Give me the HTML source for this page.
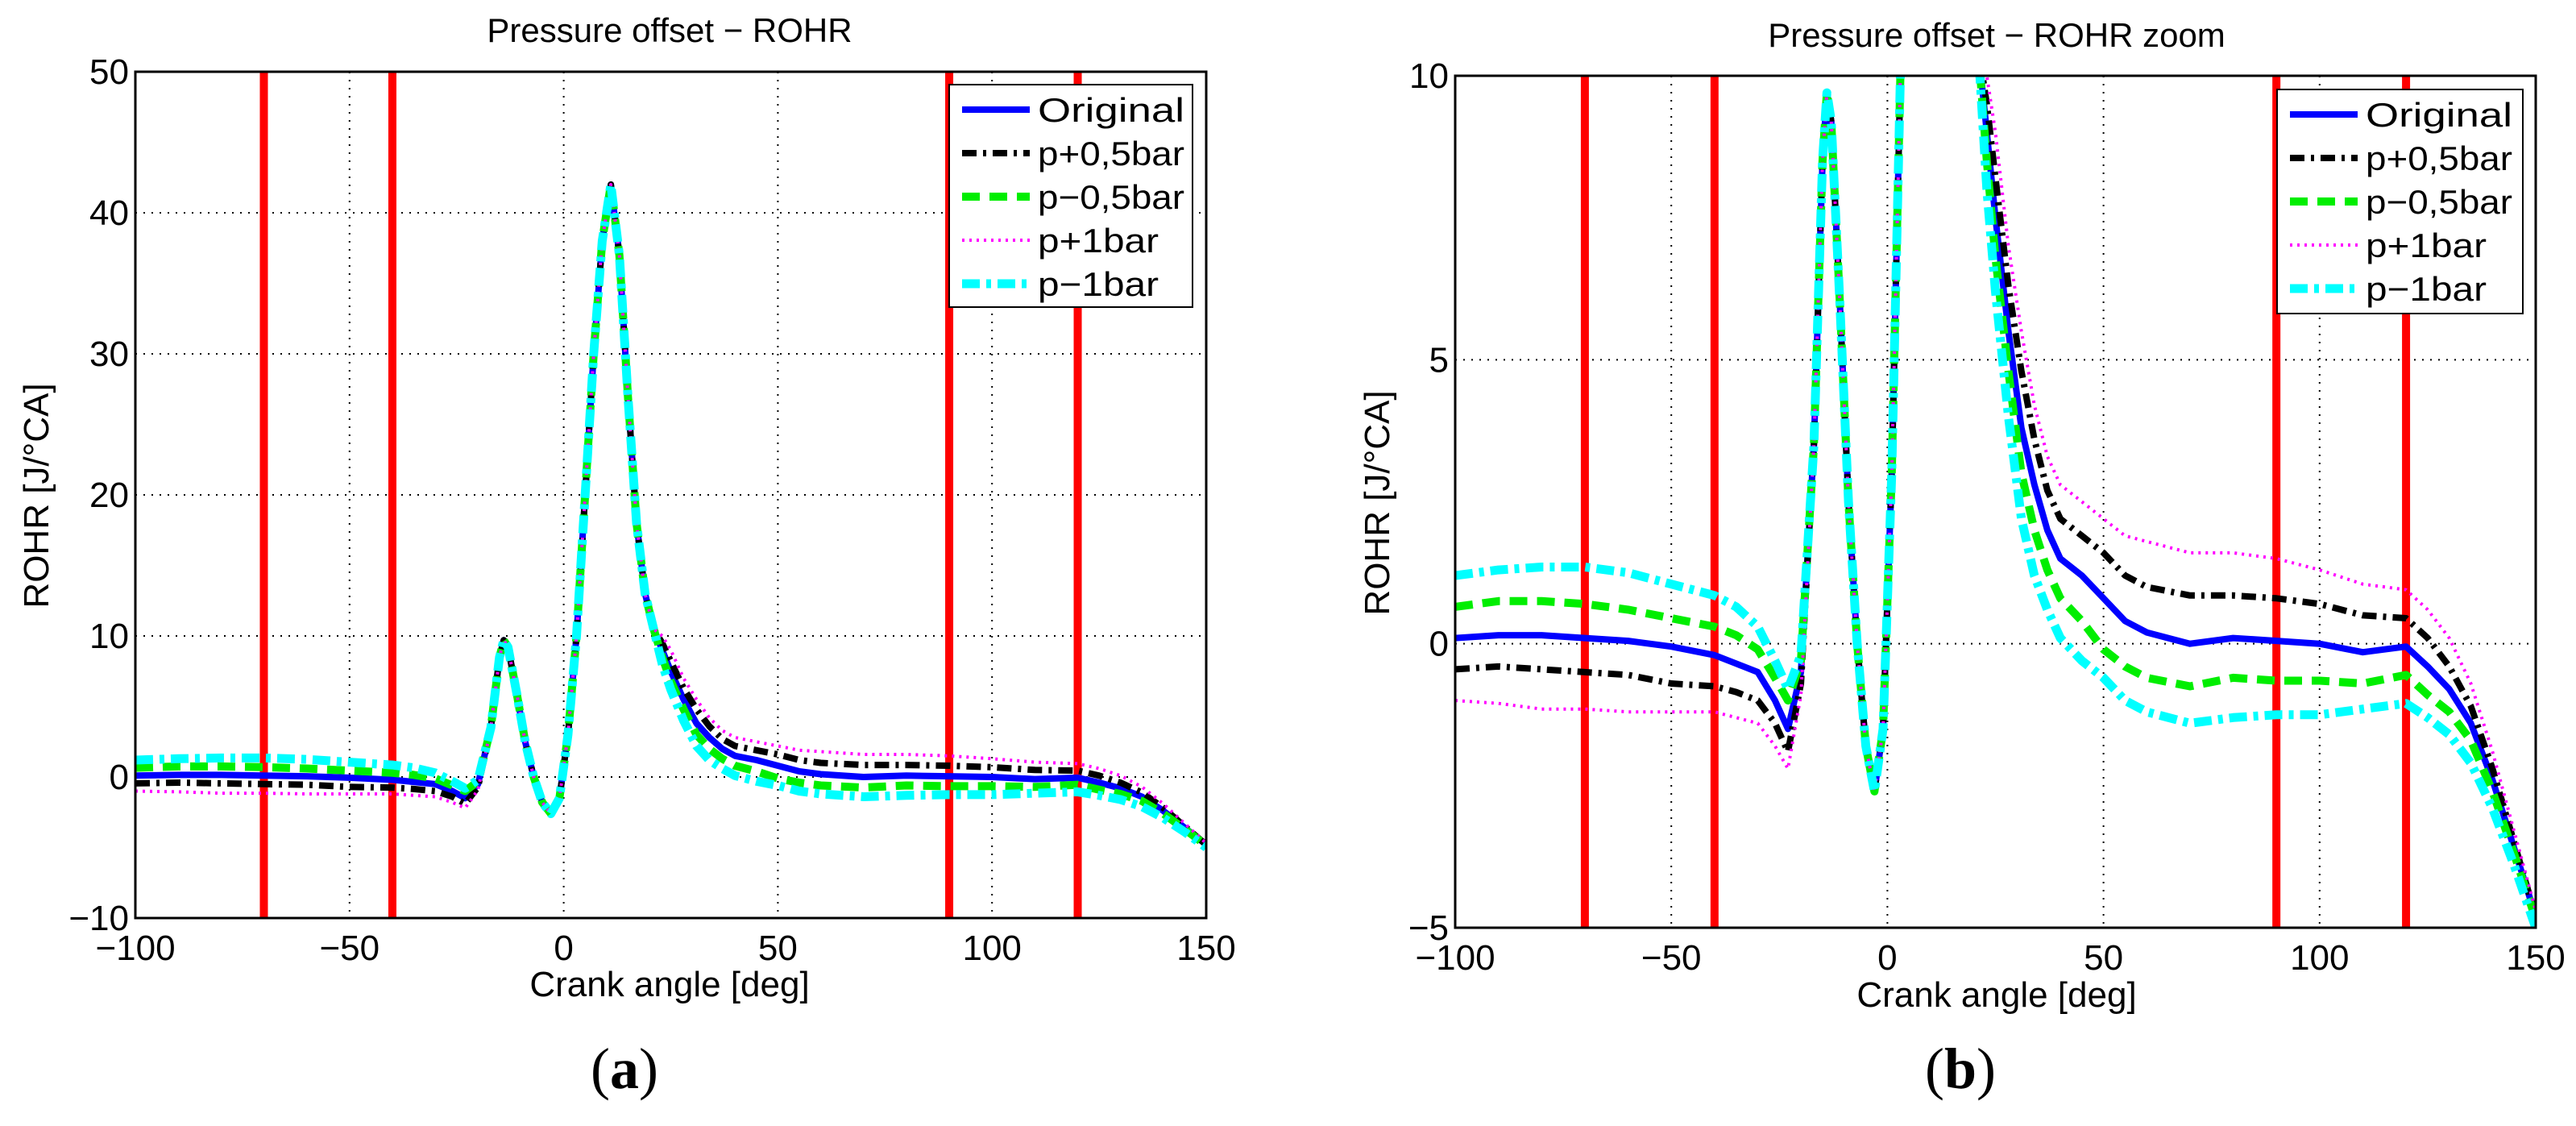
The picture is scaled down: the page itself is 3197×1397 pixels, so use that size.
<!DOCTYPE html>
<html><head><meta charset="utf-8"><style>
html,body{margin:0;padding:0;background:#fff;}
svg{display:block;font-family:"Liberation Sans",Arial,sans-serif;}
</style></head><body>
<svg id="fig" width="3197" height="1397" viewBox="0 0 3197 1397" xmlns="http://www.w3.org/2000/svg"></svg>
<script>
const xs=[-100,-90,-80,-70,-60,-50,-40,-35,-30,-26,-23,-20,-17,-15,-14,-13,-11,-9,-7,-5,-3,-1,1,3,5,7,9,11,13,15,17,19,21,23,25,28,31,34,37,40,45,50,55,60,70,80,90,100,110,120,125,130,135,140,145,150];
const mid=[3.5,8.5,9.7,9.2,6,2.5,0,-1.8,-2.6,-1.5,3,10,20,30,38,42,37,27,18,13,10.5];
const original=[0.1,0.15,0.15,0.1,0.05,-0.05,-0.2,-0.35,-0.5,-1.0,-1.5,-0.5].concat(mid,[9,7.5,5.5,3.8,2.8,2.0,1.5,1.2,0.8,0.4,0.2,0,0.1,0.05,0,-0.15,-0.05,-0.4,-0.8,-1.4,-2.4,-3.6,-4.8]);
const pPlus05=[-0.45,-0.4,-0.45,-0.5,-0.55,-0.7,-0.75,-0.85,-1.0,-1.4,-1.9,-0.7].concat(mid,[9.5,8.2,6.3,4.8,3.6,2.7,2.2,1.9,1.6,1.2,1.0,0.85,0.85,0.8,0.7,0.5,0.45,0.1,-0.4,-1.1,-2.2,-3.5,-4.8]);
const pMinus05=[0.65,0.75,0.75,0.7,0.6,0.45,0.3,0.15,-0.1,-0.6,-1.0,-0.3].concat(mid,[8.5,6.8,4.8,3.0,2.0,1.3,0.8,0.4,-0.1,-0.4,-0.6,-0.75,-0.6,-0.65,-0.65,-0.7,-0.55,-0.9,-1.2,-1.7,-2.6,-3.7,-4.85]);
const pPlus1=[-1.0,-1.05,-1.15,-1.15,-1.2,-1.2,-1.2,-1.3,-1.4,-1.8,-2.2,-0.9].concat(mid,[10,9,7,5.5,4.2,3.3,2.8,2.5,2.2,1.9,1.8,1.6,1.6,1.5,1.3,1.05,0.95,0.6,0.1,-0.7,-1.9,-3.3,-4.7]);
const pMinus1=[1.2,1.3,1.35,1.35,1.25,1.05,0.85,0.65,0.3,-0.3,-0.8,-0.2].concat(mid,[8,6.2,4.0,2.2,1.2,0.6,0.1,-0.3,-0.6,-1.0,-1.2,-1.4,-1.3,-1.25,-1.25,-1.15,-1.05,-1.3,-1.6,-2.1,-2.9,-3.9,-5.0]);
const markers=[-70,-40,90,120];
const xTicks=[-100,-50,0,50,100,150];
const yTicksA=[-10,0,10,20,30,40,50];
const yTicksB=[-5,0,5,10];
const seriesNames=["Original","p+0,5bar","p\u22120,5bar","p+1bar","p\u22121bar"];

const NS="http://www.w3.org/2000/svg";
const fig=document.getElementById('fig');
function mk(tag,attrs,parent){const e=document.createElementNS(NS,tag);for(const k in attrs)e.setAttribute(k,attrs[k]);(parent||fig).appendChild(e);return e;}
function fmt(v){return v<0?'\u2212'+(-v):''+v;}
const styles=[
 {c:'#0000ff',w:8,d:''},
 {c:'#000000',w:8,d:'18 8 4 8'},
 {c:'#00ee00',w:10,d:'22 12'},
 {c:'#ff00ff',w:4,d:'3 6'},
 {c:'#00ffff',w:11,d:'22 8 6 8'}
];
const data=[original,pPlus05,pMinus05,pPlus1,pMinus1];

function plot(cfg){
 const g=mk('g',{});
 
 
 const X=v=>cfg.L+(v+100)/250*(cfg.R-cfg.L);
 const Y=v=>cfg.B-(v-cfg.ymin)/(cfg.ymax-cfg.ymin)*(cfg.B-cfg.T);
 const cid='clip'+cfg.name;
 const cp=mk('clipPath',{id:cid},g);
 mk('rect',{x:cfg.L,y:cfg.T,width:cfg.R-cfg.L,height:cfg.B-cfg.T},cp);
 xTicks.forEach(t=>{if(t>-100&&t<150){const l=mk('line',{x1:X(t),x2:X(t),y1:cfg.T,y2:cfg.B,stroke:'#000','stroke-width':2,'stroke-dasharray':'2 8'},g);
  
  }});
 cfg.yt.forEach(t=>{if(t>cfg.ymin&&t<cfg.ymax){const l=mk('line',{x1:cfg.L,x2:cfg.R,y1:Y(t),y2:Y(t),stroke:'#000','stroke-width':2,'stroke-dasharray':'2 8'},g);
  
  }});
 markers.forEach(m=>{const l=mk('line',{x1:X(m),x2:X(m),y1:cfg.T,y2:cfg.B,stroke:'#ff0000','stroke-width':10},g);
  
  });
 const sg=mk('g',{'clip-path':'url(#'+cid+')'},g);
 data.forEach((arr,i)=>{
  const pts=xs.map((x,j)=>X(x).toFixed(1)+','+Y(arr[j]).toFixed(1)).join(' ');
  const s=styles[i];
  const p=mk('polyline',{points:pts,fill:'none',stroke:s.c,'stroke-width':s.w,'stroke-linejoin':'round','stroke-dasharray':s.d},sg);
  
  
 });
 const box=mk('rect',{x:cfg.L,y:cfg.T,width:cfg.R-cfg.L,height:cfg.B-cfg.T,fill:'none',stroke:'#000','stroke-width':3},g);
 
 
 xTicks.forEach(t=>{const tx=mk('text',{x:X(t),y:cfg.B+52,'font-size':44,'text-anchor':'middle'},g);tx.textContent=fmt(t);
  
  });
 cfg.yt.forEach(t=>{const tx=mk('text',{x:cfg.L-8,y:Y(t)+15,'font-size':44,'text-anchor':'end'},g);tx.textContent=fmt(t);
  
  });
 const ti=mk('text',{x:cfg.tx,y:cfg.ty,'font-size':42,'text-anchor':'middle'},g);ti.textContent=cfg.title;
 
 
 const xl=mk('text',{x:cfg.tx,y:cfg.xly,'font-size':44,'text-anchor':'middle'},g);xl.textContent='Crank angle [deg]';
 
 
 const yl=mk('text',{x:0,y:0,'font-size':44,'text-anchor':'middle',transform:'translate('+cfg.ylx+','+cfg.yly+') rotate(-90)'},g);yl.textContent='ROHR [J/\u00B0CA]';
 
 
 const lg=mk('g',{},g);
 
 
 mk('rect',{x:cfg.lx,y:cfg.ly,width:cfg.lw,height:cfg.lh,fill:'#fff',stroke:'#000','stroke-width':2},lg);
 seriesNames.forEach((n,i)=>{const yy=cfg.ly+31+i*54;const s=styles[i];
  const e=mk('g',{},lg);
  
  
  mk('line',{x1:cfg.lx+16,x2:cfg.lx+100,y1:yy,y2:yy,stroke:s.c,'stroke-width':s.w,'stroke-dasharray':s.d},e);
  const t=mk('text',{x:cfg.lx+110,y:yy+15,'font-size':42,textLength:(n.length>6?182:150),lengthAdjust:'spacingAndGlyphs'},e);t.textContent=n;});
 const pl=mk('text',{x:cfg.plx,y:1350,'font-size':72,'font-family':'"Liberation Serif",serif','text-anchor':'middle'},g);
 pl.innerHTML='(<tspan font-weight="bold">'+cfg.pl+'</tspan>)';
 
 
}
plot({name:'plot-a',L:168,R:1497,T:89,B:1139,ymin:-10,ymax:50,yt:yTicksA,title:'Pressure offset \u2212 ROHR',tx:831,ty:52,xly:1236,ylx:60,yly:615,lx:1178,ly:105,lw:302,lh:276,plx:775,pl:'a'});
plot({name:'plot-b',L:1806,R:3147,T:94,B:1151,ymin:-5,ymax:10,yt:yTicksB,title:'Pressure offset \u2212 ROHR zoom',tx:2478,ty:58,xly:1249,ylx:1724,yly:624,lx:2826,ly:111,lw:305,lh:278,plx:2433,pl:'b'});
</script>
</body></html>
